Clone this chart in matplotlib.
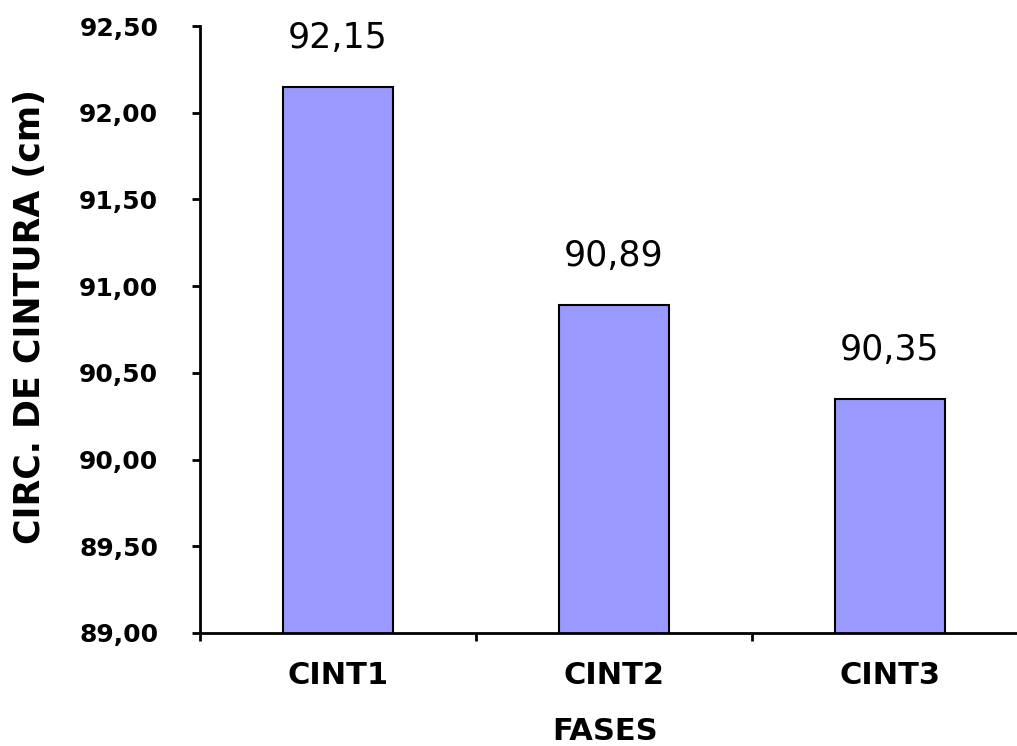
import numpy as np
import matplotlib
matplotlib.use('Agg')
import matplotlib.pyplot as plt

# data
fases = ['CINT1', 'CINT2', 'CINT3']
circ_cintura = [92.15, 90.89, 90.35]
valor_labels = ['92,15', '90,89', '90,35']
y_ticks = [89.0, 89.5, 90.0, 90.5, 91.0, 91.5, 92.0, 92.5]
y_tick_labels = ['89,00', '89,50', '90,00', '90,50', '91,00', '91,50', '92,00', '92,50']

fig = plt.figure(figsize=(10.17, 7.46), dpi=100)
ax = fig.add_axes([200/1017, 113/746, 828/1017, 607/746])

x = np.arange(len(fases))
ax.bar(x, circ_cintura, width=0.40, color='#9999FF', edgecolor='black', linewidth=1.5, zorder=2)

for xi, v, lab in zip(x, circ_cintura, valor_labels):
    ax.annotate(lab, (xi, v), xytext=(0, 28), textcoords='offset points',
                ha='center', va='baseline', fontsize=25, family='DejaVu Sans')

ax.set_xlim(-0.5, 2.5)
ax.set_ylim(89.0, 92.5)

ax.set_yticks(y_ticks)
ax.set_yticklabels(y_tick_labels, fontsize=18, fontweight='bold')
ax.tick_params(axis='y', direction='out', length=6, width=2, pad=24)

ax.set_xticks(x)
ax.set_xticklabels(fases, fontsize=22, fontweight='bold')
ax.set_xticks([-0.5, 0.5, 1.5], minor=True)
ax.tick_params(axis='x', which='major', length=0, pad=20)
ax.tick_params(axis='x', which='minor', direction='out', length=6, width=2)

for side in ['top', 'right']:
    ax.spines[side].set_visible(False)
for side in ['left', 'bottom']:
    ax.spines[side].set_linewidth(2)

fig.text(30/1017, 1 - 316/746, 'CIRC. DE CINTURA (cm)', rotation=90,
         ha='center', va='center', fontsize=25, fontweight='bold')
fig.text(605/1017, 1 - 731/746, 'FASES', ha='center', va='center',
         fontsize=22, fontweight='bold')

fig.savefig('out.png', dpi=100)
